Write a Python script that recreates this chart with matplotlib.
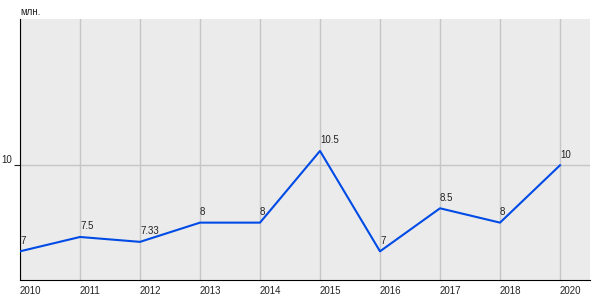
import matplotlib
matplotlib.use("Agg")
import matplotlib.pyplot as plt

plt.rcParams["font.family"] = ["Liberation Sans", "DejaVu Sans"]

years = ["2010", "2011", "2012", "2013", "2014", "2015", "2016", "2017", "2018", "2020"]
values = [7, 7.5, 7.33, 8, 8, 10.5, 7, 8.5, 8, 10]
labels = ["7", "7.5", "7.33", "8", "8", "10.5", "7", "8.5", "8", "10"]

fig = plt.figure(figsize=(6, 3), dpi=100)
ax = fig.add_axes([20/600, 20/300, 570/600, 261/300])
ax.set_facecolor("#ebebeb")
x = list(range(len(years)))
ax.plot(x, values, color="#004be6", lw=1.5, zorder=3)
for xi, v, lab in zip(x, values, labels):
    ax.annotate(lab, (xi, v), xytext=(0, 4), textcoords="offset points",
                fontsize=7, color="#222222", ha="left", va="bottom", zorder=4)
ax.set_xlim(0, 9.5)
ax.set_ylim(6, 15.1)
ax.set_xticks(x)
ax.set_xticklabels(years, ha="left")
ax.set_yticks([10])
ax.grid(True, color="#c6c6c6", lw=1)
ax.set_axisbelow(True)
for s in ["top", "right"]:
    ax.spines[s].set_visible(False)
ax.spines["left"].set_color("black")
ax.spines["bottom"].set_color("black")
ax.tick_params(axis="both", labelsize=7, colors="#222222", length=4, width=0.8)
ax.tick_params(axis="x", length=0, pad=4)
ax.tick_params(axis="y", pad=2)
for t in ax.get_yticklabels():
    t.set_va("bottom")
fig.text(20/600, 1 - 12/300, "млн.", fontsize=7, color="#222222", ha="left", va="center")
fig.savefig("out.png", dpi=100)
